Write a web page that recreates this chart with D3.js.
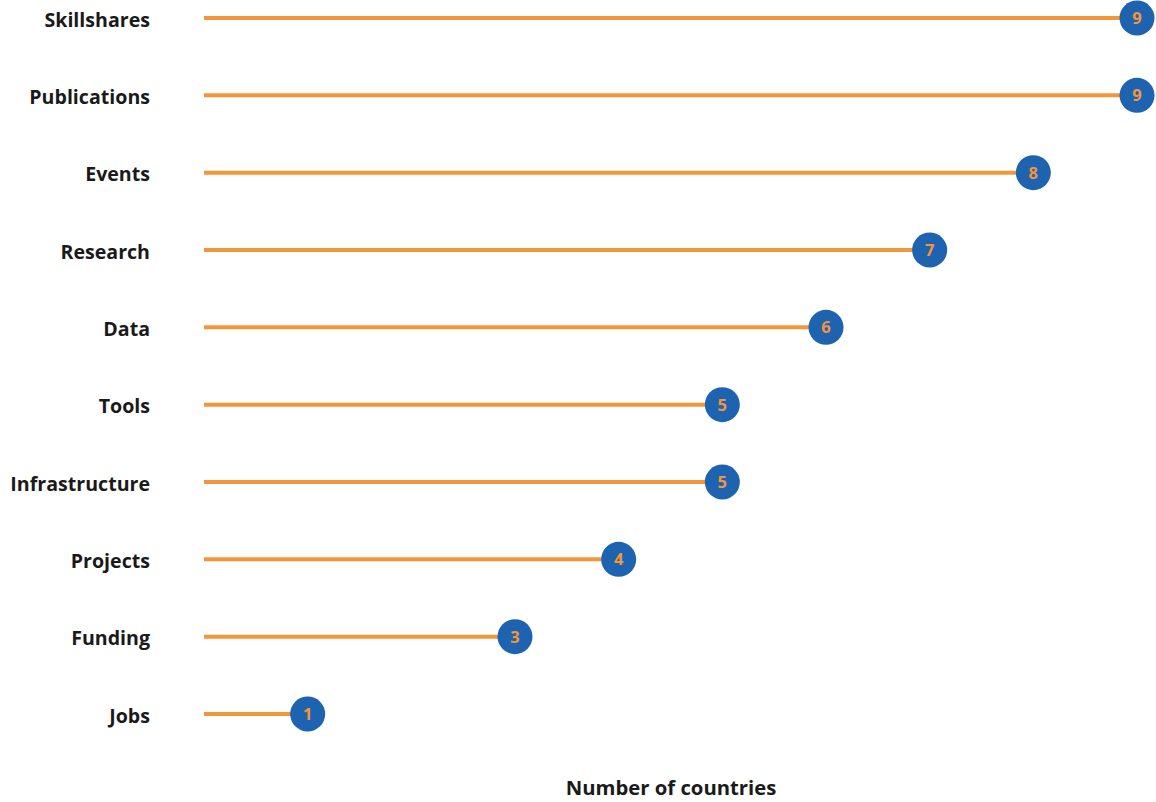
<!DOCTYPE html>
<html><head><meta charset="utf-8">
<script src="https://cdn.jsdelivr.net/npm/d3@7"></script>
<style>body{margin:0;background:#fff;}svg{display:block;}</style>
</head><body>
<svg id="chart" width="1156" height="802"></svg>
<script>
const categories = ["Skillshares","Publications","Events","Research","Data","Tools","Infrastructure","Projects","Funding","Jobs"];
const values = [9,9,8,7,6,5,5,4,3,1];
const axisTitle = "Number of countries";

const svg = d3.select("#chart");
const x = d3.scaleLinear().domain([0, 9]).range([204, 1137]);
const y = d3.scalePoint().domain(categories).range([18, 714]);
const orange = "#F5953A", blue = "#1E63B0";
const font = "'Open Sans', 'Segoe UI', sans-serif";

const data = categories.map((c, i) => ({c, v: values[i]}));

svg.append("g").selectAll("line").data(data).join("line")
  .attr("x1", x(0)).attr("x2", d => x(d.v))
  .attr("y1", d => y(d.c)).attr("y2", d => y(d.c))
  .attr("stroke", orange).attr("stroke-width", 4);

svg.append("g").selectAll("circle").data(data).join("circle")
  .attr("cx", d => x(d.v)).attr("cy", d => y(d.c)).attr("r", 17.5)
  .attr("fill", blue);

svg.append("g").selectAll("text").data(data).join("text")
  .attr("x", d => x(d.v)).attr("y", d => y(d.c)).attr("dy", "0.36em")
  .attr("text-anchor", "middle").attr("fill", orange)
  .style("font-family", font).style("font-weight", "bold").style("font-size", "16.5px")
  .text(d => d.v);

const yAxis = d3.axisLeft(y).tickSize(0).tickPadding(0);
const gy = svg.append("g").attr("transform", "translate(150,2)").call(yAxis);
gy.select(".domain").remove();
gy.selectAll("text").attr("fill", "#1a1a1a")
  .style("font-family", font).style("font-weight", "bold").style("font-size", "19.6px");

svg.append("text").attr("x", 671).attr("y", 795)
  .attr("text-anchor", "middle").attr("fill", "#1a1a1a")
  .style("font-family", font).style("font-weight", "bold").style("font-size", "20.3px")
  .text(axisTitle);
</script>
</body></html>
